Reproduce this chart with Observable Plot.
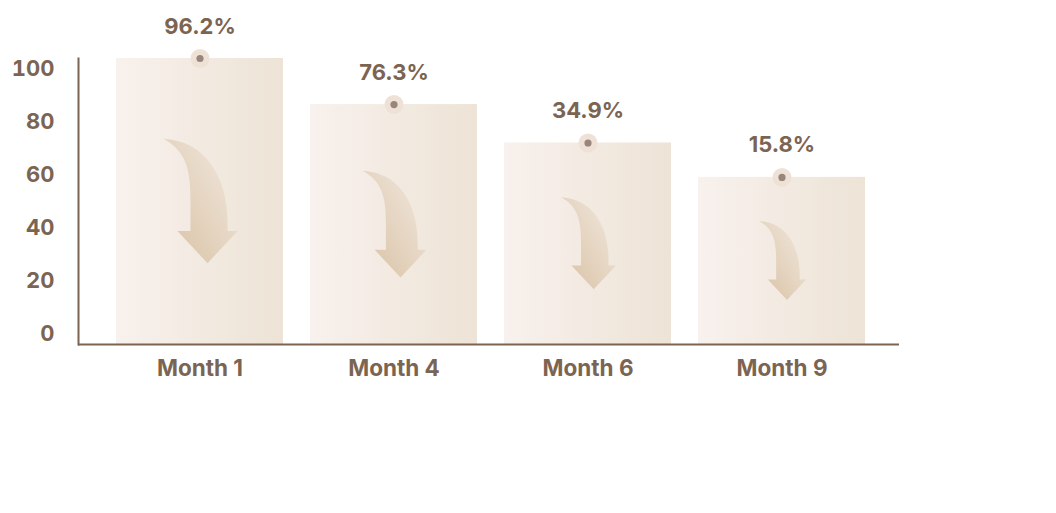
<!DOCTYPE html>
<html><head><meta charset="utf-8">
<script src="https://cdn.jsdelivr.net/npm/d3@7"></script>
<script src="https://cdn.jsdelivr.net/npm/@observablehq/plot@0.6"></script>
<style>html,body{margin:0;padding:0;background:#fff;}</style>
</head><body><div id="chart"></div>
<script>
const months = ["Month 1", "Month 4", "Month 6", "Month 9"];
const barHeights = [108, 90.6, 76.1, 63.1];
const retention = [96.2, 76.3, 34.9, 15.8];
const yTicks = [0, 20, 40, 60, 80, 100];

const data = months.map((m, i) => ({month: m, bar: barHeights[i], pct: retention[i]}));

const brown = "#7b6552";
const font = "Inter, 'Noto Sans', sans-serif";

function withDefs(index, scales, values, dimensions, context, next) {
  const g = next(index, scales, values, dimensions, context);
  const defs = d3.create("svg:defs");
  const bg = defs.append("linearGradient").attr("id", "barGrad").attr("x1", 0).attr("x2", 1).attr("y1", 0).attr("y2", 0);
  bg.append("stop").attr("offset", 0).attr("stop-color", "#f8f1ed");
  bg.append("stop").attr("offset", 1).attr("stop-color", "#ede3d6");
  const ag = defs.append("linearGradient").attr("id", "arrowGrad").attr("x1", 0).attr("y1", 1).attr("x2", 1).attr("y2", 0);
  ag.append("stop").attr("offset", 0).attr("stop-color", "#d8c0a2");
  ag.append("stop").attr("offset", 1).attr("stop-color", "#f2eae1");
  g.insertBefore(defs.node(), g.firstChild);
  return g;
}

const arrowPath = "M0,0 C40,2 64,35 64,85 L64,92 L74,92 L44,124 L14,92 L27,92 L27,60 C27,30 22,12 0,0 Z";

function arrows(index, scales, values, dimensions, context) {
  const g = d3.create("svg:g");
  const bwRaw = scales.x && scales.x.bandwidth;
  const bw = typeof bwRaw === "function" ? bwRaw() : (bwRaw || 0);
  const y0 = scales.y(0);
  for (const i of index) {
    const cx = values.x[i] + bw / 2;
    const yt = values.y[i];
    const h = y0 - yt;
    const s = 0.123 + 0.003076 * h;
    const cy = (yt + y0) / 2;
    g.append("path")
      .attr("d", arrowPath)
      .attr("fill", "url(#arrowGrad)")
      .attr("transform", `translate(${cx - 37 * s + 1},${cy - 62 * s}) scale(${s})`);
  }
  return g.node();
}

const chart = Plot.plot({
  width: 1056,
  height: 513,
  marginTop: 58,
  marginBottom: 169,
  marginLeft: 78,
  marginRight: 157,
  style: {fontFamily: font, color: brown, background: "#fff", overflow: "visible"},
  x: {domain: months, paddingInner: 0.1385, paddingOuter: 0.178, align: 0.534, label: null},
  y: {domain: [0, 108], label: null},
  marks: [
    Plot.barY(data, {x: "month", y: "bar", fill: "url(#barGrad)", render: withDefs}),
    Plot.dot(data, {x: "month", y: "bar", render: arrows}),
    Plot.ruleY([0], {stroke: brown, strokeWidth: 2}),
    Plot.frame({anchor: "left", stroke: brown, strokeWidth: 2}),
    Plot.dot(data, {x: "month", y: "bar", r: 9.5, fill: "#eee2d7", stroke: null}),
    Plot.dot(data, {x: "month", y: "bar", r: 3.6, fill: "#9a857c", stroke: null}),
    Plot.text(data, {x: "month", y: "bar", text: d => d.pct.toFixed(1) + "%", dy: -32, fontSize: 22, fontWeight: 700, fill: brown}),
    Plot.axisY({ticks: yTicks, tickSize: 0, tickPadding: 24, dy: -11, fontSize: 22, fontWeight: 700, fill: brown, label: null}),
    Plot.axisX({tickSize: 0, tickPadding: 16, fontSize: 22.5, fontWeight: 700, fill: brown, label: null})
  ]
});
document.getElementById("chart").appendChild(chart);
</script>
</body></html>
